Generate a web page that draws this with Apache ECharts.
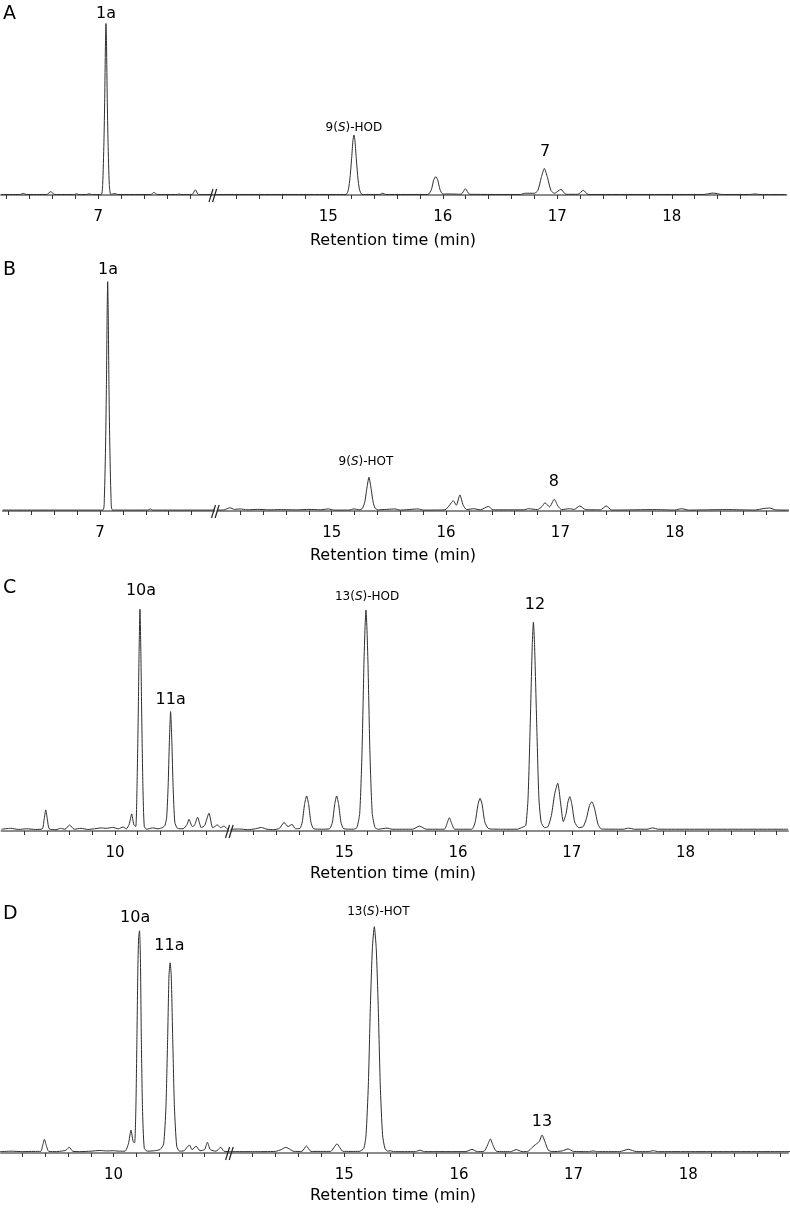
<!DOCTYPE html>
<html>
<head>
    <meta charset="utf-8">
    <title>Chromatograms</title>
    <style>
        html, body { margin: 0; padding: 0; background: #fff; }
        #main { width: 790px; height: 1209px; }
    </style>
</head>
<body>
    <div id="main"></div>
    <script src="https://cdn.jsdelivr.net/npm/echarts@6/dist/echarts.min.js"></script>
    <script>
    // traces: [retention time (min), relative intensity]
    var traceA_left = [[6.15,0.3],[6.32,0.3],[6.345,0.9],[6.37,0.3],[6.55,0.3],[6.584,1.9],[6.62,0.3],[6.79,0.3],[6.81,0.7],[6.83,0.3],[6.9,0.3],[6.92,0.7],[6.94,0.3],
        [7.025,0.3],[7.038,6],[7.049,30],[7.056,55],[7.062,85],[7.067,98],[7.072,85],[7.078,55],[7.085,30],[7.096,6],[7.109,0.3],
        [7.146,0.8],[7.17,0.3],[7.46,0.3],[7.486,1.5],[7.515,0.3],[7.69,0.3],[7.705,0.6],[7.72,0.3],[7.82,0.3],[7.847,3.0],[7.875,0.3],[8.0,0.3]];
    var traceA_right = [[14.0,0.3],[15.155,0.3],[15.175,3],[15.19,10],[15.205,22],[15.215,31],[15.224,34.3],[15.233,31],[15.243,22],[15.258,10],[15.273,3],[15.295,0.3],
        [15.45,0.3],[15.475,1.0],[15.5,0.3],[15.87,0.3],[15.9,3],[15.92,8.5],[15.938,10.5],[15.956,8.5],[15.976,3],[16.0,0.5],[16.05,0.6],[16.12,0.5],[16.16,0.4],[16.197,3.6],[16.235,0.4],
        [16.68,0.3],[16.72,1.0],[16.8,1.0],[16.83,2.5],[16.86,10],[16.887,15.2],[16.914,10],[16.945,2.5],[16.975,1],[17.032,3.2],[17.075,0.4],[17.18,0.4],[17.227,2.7],[17.27,0.3],
        [18.28,0.3],[18.36,1.1],[18.44,0.3],[18.68,0.3],[18.727,0.6],[18.77,0.3],[19.0,0.3]];

    var traceB_left = [[6.15,0.4],[7.025,0.4],[7.038,6],[7.049,30],[7.056,55],[7.062,85],[7.067,99.7],[7.072,85],[7.078,55],[7.085,30],[7.096,6],[7.109,0.4],
        [7.42,0.4],[7.44,0.9],[7.46,0.4],[8.0,0.4]];
    var traceB_right = [[14.0,0.4],[14.06,0.5],[14.11,1.4],[14.15,0.7],[14.2,0.9],[14.26,0.5],[14.35,0.7],[14.45,0.5],[14.55,0.6],[14.7,0.5],[14.8,0.7],[14.9,0.5],[14.97,0.9],[15.02,0.4],
        [15.15,0.4],[15.195,0.9],[15.24,0.5],[15.27,1.2],[15.29,4],[15.305,9],[15.318,13],[15.326,14.7],[15.334,13],[15.347,9],[15.362,4],[15.38,1.2],[15.41,0.5],
        [15.553,0.9],[15.6,0.4],[15.757,0.9],[15.8,0.4],[15.99,0.5],[16.03,2.5],[16.063,4.5],[16.09,2.5],[16.121,7.0],[16.15,2.5],[16.18,0.6],[16.24,1.0],[16.3,0.5],[16.37,2.0],[16.41,0.5],
        [16.68,0.5],[16.72,1.0],[16.8,0.6],[16.84,2],[16.865,3.6],[16.905,1.8],[16.946,5.1],[16.98,2],[17.01,0.6],[17.08,1.0],[17.12,0.7],[17.17,2.2],[17.22,0.6],
        [17.35,0.5],[17.40,2.2],[17.45,0.4],[17.84,0.6],[18.0,0.4],[18.06,1.0],[18.12,0.4],[18.45,0.6],[18.7,0.4],[18.78,1.1],[18.83,1.3],[18.88,0.5],[19.0,0.4]];

    var traceC_left = [[9.0,0.8],[9.08,1.2],[9.15,0.7],[9.22,1.0],[9.3,0.7],[9.36,1.0],[9.375,5],[9.39,9.5],[9.405,5],[9.42,1.0],[9.48,0.6],[9.52,1.2],[9.56,0.8],[9.60,2.7],[9.64,0.8],
        [9.7,1.2],[9.76,0.7],[9.82,1.0],[9.88,1.4],[9.92,1.2],[9.98,1.6],[10.03,1.0],[10.07,1.8],[10.1,1.0],[10.125,3],[10.147,7.7],[10.165,3],[10.183,2],
        [10.194,20],[10.204,50],[10.212,80],[10.22,99.9],[10.228,80],[10.236,50],[10.246,20],[10.258,2],[10.28,0.8],[10.33,1.4],[10.38,1.0],[10.42,1.6],[10.44,2.5],
        [10.455,6],[10.468,20],[10.479,40],[10.49,53.8],[10.501,40],[10.512,20],[10.527,4],[10.55,1.2],[10.6,1.0],[10.635,3],[10.652,5.3],[10.68,2],[10.7,2.5],[10.728,6.2],
        [10.76,1.5],[10.79,2.5],[10.828,8.0],[10.86,1.5],[10.88,2],[10.9,2.8],[10.93,1.5],[10.96,2.2],[10.99,0.9],[11.0,0.8]];
    var traceC_right = [[14.0,0.8],[14.08,0.9],[14.15,0.6],[14.22,1.0],[14.27,1.6],[14.32,0.8],[14.38,0.6],[14.43,1.2],[14.47,3.8],[14.505,2],[14.54,3.0],[14.57,1.0],
        [14.61,1.2],[14.63,4],[14.65,12],[14.668,15.8],[14.686,12],[14.706,4],[14.73,1.0],[14.8,0.8],[14.87,1.0],[14.895,4],[14.915,12],[14.932,15.8],[14.95,12],[14.97,4],[14.995,1.0],
        [15.08,0.8],[15.11,1.5],[15.135,8],[15.155,35],[15.172,75],[15.182,92],[15.19,99.5],[15.198,92],[15.208,75],[15.225,35],[15.245,8],[15.27,1.5],[15.3,0.8],[15.375,1.3],[15.42,0.8],
        [15.6,0.8],[15.66,2.2],[15.72,0.8],[15.88,0.8],[15.9,3],[15.923,6.0],[15.946,3],[15.97,0.8],[16.12,0.8],[16.15,4],[16.175,12],[16.193,14.7],[16.211,12],[16.235,4],[16.27,1.0],
        [16.4,0.8],[16.52,0.8],[16.57,1.8],[16.595,2.5],[16.615,15],[16.635,50],[16.652,84],[16.662,94],[16.672,84],[16.69,50],[16.71,15],[16.73,4],[16.76,1.5],
        [16.79,2],[16.82,7],[16.85,17],[16.876,21.5],[16.9,13],[16.925,4.2],[16.95,8],[16.965,13],[16.982,15.5],[17.0,12],[17.025,4],[17.06,1.5],
        [17.1,2],[17.13,6],[17.155,11.5],[17.176,13.2],[17.2,10],[17.23,3],[17.26,0.9],[17.45,0.8],[17.5,1.3],[17.55,0.8],[17.66,0.8],[17.71,1.4],[17.76,0.8],[18.9,0.8]];

    var traceD_left = [[9.0,0.6],[9.1,0.8],[9.2,0.6],[9.3,0.7],[9.36,0.7],[9.375,3],[9.392,6.0],[9.41,3],[9.43,0.7],[9.5,0.6],[9.55,0.9],[9.58,1.2],[9.61,2.5],[9.64,0.8],
        [9.7,0.6],[9.8,0.8],[9.88,1.1],[9.94,0.9],[10.0,1.0],[10.05,0.8],[10.1,0.8],[10.13,4],[10.153,10.1],[10.172,5],[10.185,4.5],
        [10.196,20],[10.205,50],[10.213,80],[10.22,95],[10.228,97.9],[10.236,85],[10.244,50],[10.254,20],[10.27,2],[10.3,0.8],[10.36,1.0],[10.41,1.6],
        [10.44,4],[10.46,20],[10.475,50],[10.487,78],[10.497,83.8],[10.507,78],[10.52,50],[10.535,20],[10.555,3],[10.58,0.8],
        [10.62,1.0],[10.645,2.5],[10.667,3.5],[10.69,1.5],[10.725,3],[10.76,1.0],[10.8,1.5],[10.825,4.7],[10.85,1.5],[10.9,0.8],[10.942,2.5],[10.97,0.8],[11.02,0.6]];
    var traceD_right = [[14.0,0.6],[14.2,0.6],[14.4,0.7],[14.45,1.5],[14.49,2.5],[14.53,1.5],[14.56,0.7],[14.63,0.7],[14.67,3.1],[14.71,0.7],[14.88,0.7],[14.936,4.0],[14.99,0.7],
        [15.13,0.7],[15.17,2],[15.19,8],[15.21,30],[15.228,65],[15.245,90],[15.262,99.7],[15.279,90],[15.296,65],[15.314,30],[15.334,8],[15.355,2],[15.38,0.8],[15.4,1.0],[15.43,0.6],
        [15.62,0.6],[15.66,1.2],[15.7,0.6],[16.06,0.6],[16.114,1.6],[16.16,0.6],[16.22,0.8],[16.25,3.5],[16.274,6.2],[16.3,3],[16.33,0.7],[16.45,0.6],[16.5,1.5],[16.55,0.6],
        [16.6,0.7],[16.64,2.5],[16.67,3.8],[16.7,5],[16.725,7.9],[16.75,5],[16.78,1.2],[16.82,0.6],[16.9,0.9],[16.952,1.8],[17.0,0.7],[17.13,0.6],[17.17,0.9],[17.21,0.6],
        [17.4,0.6],[17.477,1.6],[17.55,0.6],[17.65,0.6],[17.695,1.0],[17.74,0.6],[18.9,0.6]];

    // peak annotations: [time, height of label centre, text]
    var peaksA = [[7.067,103.8,'1a'],[15.224,38.5,'9(S)-HOD'],[16.893,24.7,'7']];
    var peaksB = [[7.07,104.8,'1a'],[15.30,21.4,'9(S)-HOT'],[16.943,12.7,'8']];
    var peaksC = [[10.229,108,'10a'],[10.49,59,'11a'],[15.2,105.3,'13(S)-HOD'],[16.675,101.8,'12']];
    var peaksD = [[10.19,103.4,'10a'],[10.491,91.3,'11a'],[15.297,106.3,'13(S)-HOT'],[16.725,13.8,'13']];

    // axis ticks and tick labels
    var ticksEarlyA = [6.2,6.4,6.6,6.8,7,7.2,7.4,7.6,7.8];
    var ticksEarlyC = [9.2,9.4,9.6,9.8,10,10.2,10.4,10.6,10.8];
    var ticksLate = [14.2,14.4,14.6,14.8,15,15.2,15.4,15.6,15.8,16,16.2,16.4,16.6,16.8,17,17.2,17.4,17.6,17.8,18,18.2,18.4,18.6,18.8];
    var labelsEarlyA = [7];
    var labelsEarlyC = [10];
    var labelsLate = [15,16,17,18];

    var FONT = 'DejaVu Sans';

    // layout of the four panels (pixels)
    var panels = [
        {letter:'A', letterY:14, top:20, axisY:195, nameY:241,
            segs:[{x0:1, x1:212.8, min:6.15, max:8.0, data:traceA_left, ticks:ticksEarlyA, labels:labelsEarlyA},
                  {x0:213.8, x1:786.3, min:14, max:19, data:traceA_right, ticks:ticksLate, labels:labelsLate}],
            peaks:peaksA, brk:213},
        {letter:'B', letterY:270, top:281, axisY:511, nameY:556,
            segs:[{x0:2.8, x1:214.4, min:6.15, max:8.0, data:traceB_left, ticks:ticksEarlyA, labels:labelsEarlyA},
                  {x0:217.3, x1:788, min:14, max:18.99, data:traceB_right, ticks:ticksLate, labels:labelsLate}],
            peaks:peaksB, brk:215.5},
        {letter:'C', letterY:588, top:609, axisY:831, nameY:874,
            segs:[{x0:1.5, x1:228.5, min:9.0, max:11.0, data:traceC_left, ticks:ticksEarlyC, labels:labelsEarlyC},
                  {x0:230.6, x1:788, min:14, max:18.9, data:traceC_right, ticks:ticksLate, labels:labelsLate}],
            peaks:peaksC, brk:229.5},
        {letter:'D', letterY:914, top:926, axisY:1153, nameY:1196,
            segs:[{x0:1, x1:229.6, min:9.01, max:11.02, data:traceD_left, ticks:ticksEarlyC, labels:labelsEarlyC},
                  {x0:229.6, x1:788, min:14, max:18.87, data:traceD_right, ticks:ticksLate, labels:labelsLate}],
            peaks:peaksD, brk:229.6}
    ];

    var grids = [], xAxes = [], yAxes = [], series = [], graphics = [];

    panels.forEach(function (p) {
        p.segs.forEach(function (s) {
            var gi = grids.length;
            grids.push({left: s.x0, top: p.top, width: s.x1 - s.x0, height: p.axisY - p.top,
                containLabel: false, outerBoundsMode: 'none'});
            xAxes.push({
                gridIndex: gi, type: 'value', min: s.min, max: s.max,
                axisLine: {show: true, onZero: false, lineStyle: {color: '#8c8c8c', width: 2}},
                axisTick: {show: true, customValues: s.ticks, length: 4, lineStyle: {color: '#333', width: 1}},
                axisLabel: {show: true, customValues: s.labels, margin: 15, fontSize: 15,
                    fontFamily: FONT, color: '#000'},
                splitLine: {show: false}
            });
            yAxes.push({gridIndex: gi, type: 'value', min: 0, max: 100, show: false});
            series.push({
                type: 'line', xAxisIndex: gi, yAxisIndex: gi, data: s.data,
                symbol: 'none', smooth: 0.2, z: 3,
                lineStyle: {color: '#2e2e2e', width: 1}
            });
            var pk = p.peaks.filter(function (d) { return d[0] >= s.min && d[0] <= s.max; });
            series.push({
                type: 'scatter', xAxisIndex: gi, yAxisIndex: gi, clip: false, silent: true,
                symbolSize: 0, z: 5, itemStyle: {opacity: 1},
                data: pk.map(function (d) {
                    var small = d[2].indexOf('(S)') >= 0;
                    return {value: [d[0], d[1]], name: d[2],
                        label: {fontSize: small ? 12 : 16}};
                }),
                label: {
                    show: true, position: [0, 0], align: 'center', verticalAlign: 'middle',
                    color: '#000', fontFamily: FONT,
                    formatter: function (q) { return q.name.replace('(S)', '({i|S})'); },
                    rich: {i: {fontStyle: 'italic', fontSize: 12, fontFamily: FONT, color: '#000'}}
                }
            });
        });

        graphics.push({type: 'text', x: 3, y: p.letterY, z: 10,
            style: {text: p.letter, font: '19px "DejaVu Sans"', fill: '#000', verticalAlign: 'middle'}});
        graphics.push({type: 'text', x: 393, y: p.nameY, z: 10,
            style: {text: 'Retention time (min)', font: '16px "DejaVu Sans"', fill: '#000',
                align: 'center', verticalAlign: 'middle'}});
        [0, 3.6].forEach(function (dx) {
            graphics.push({type: 'line', z: 10,
                shape: {x1: p.brk - 4 + dx, y1: p.axisY + 7, x2: p.brk + dx, y2: p.axisY - 6},
                style: {stroke: '#222', lineWidth: 1.2}});
        });
    });

    var myChart = echarts.init(document.getElementById('main'), null, {renderer: 'canvas'});
    myChart.setOption({
        animation: false,
        backgroundColor: '#fff',
        grid: grids,
        xAxis: xAxes,
        yAxis: yAxes,
        series: series,
        graphic: graphics
    });
    </script>
</body>
</html>
